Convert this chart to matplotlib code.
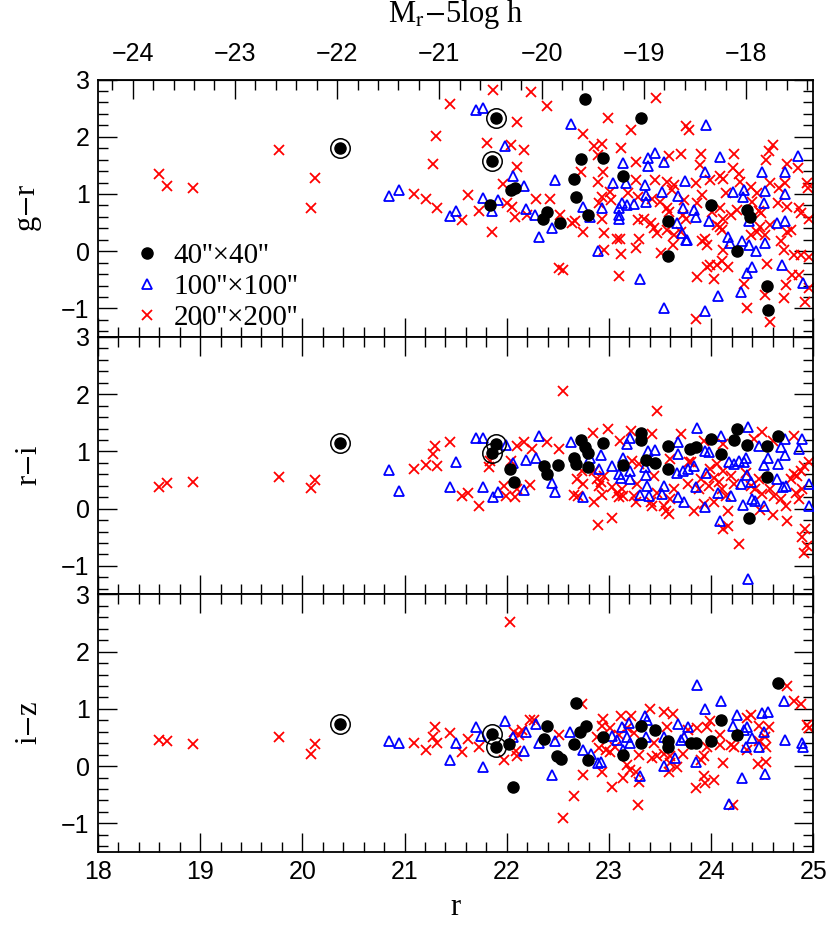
import matplotlib.pyplot as plt
import numpy as np
from matplotlib.ticker import MultipleLocator

plt.rcParams['mathtext.fontset'] = 'stix'

# the three bright galaxies (circled), same objects in every panel
bright_r = [20.37, 21.86, 21.89]
bright_gr = [1.81, 1.58, 2.32]
bright_ri = [1.14, 0.98, 1.13]
bright_iz = [0.73, 0.56, 0.34]

# (r, colour) pairs
gr_40 = [(22.04, 1.07), (22.08, 1.10), (21.84, 0.81), (22.35, 0.57), (22.39, 0.69), (22.52, 0.49),
         (22.77, 2.66), (23.31, 2.32), (22.73, 1.61), (22.94, 1.62), (22.66, 1.26), (23.14, 1.31),
         (22.68, 0.95), (22.79, 0.64), (23.58, 0.53), (23.58, -0.08), (24.00, 0.81), (24.35, 0.72),
         (24.38, 0.60), (24.25, 0.00), (24.55, -0.60), (24.56, -1.03)]
gr_100 = [(20.85, 0.96), (20.95, 1.07), (21.70, 2.47), (21.77, 2.51), (21.98, 1.83), (22.06, 1.31),
          (22.17, 1.14), (22.47, 1.24), (21.77, 0.93), (21.91, 0.89), (21.86, 0.70), (21.44, 0.62),
          (21.50, 0.70), (22.19, 0.74), (22.28, 0.63), (22.32, 0.24), (22.44, 0.40), (22.63, 2.22),
          (23.45, 1.72), (23.38, 1.62), (23.38, 1.49), (23.54, 1.55), (23.14, 1.54), (23.04, 1.20),
          (23.17, 1.20), (23.35, 1.16), (23.36, 0.99), (23.36, 0.86), (23.52, 1.03), (23.68, 0.97),
          (23.74, 1.23), (23.72, 0.76), (22.75, 0.78), (22.81, 0.59), (22.93, 0.75), (23.10, 0.75),
          (23.13, 0.84), (23.18, 0.81), (23.24, 0.82), (23.10, 0.57), (23.10, 0.63), (23.67, 0.49),
          (23.71, 0.32), (23.75, 0.20), (22.89, 0.00), (23.30, -0.49), (23.54, -1.00), (23.95, 2.20),
          (24.09, 1.64), (23.94, 1.39), (24.85, 1.67), (24.50, 1.39), (24.72, 1.39), (24.21, 1.03),
          (24.32, 1.07), (24.31, 0.94), (24.53, 1.05), (24.52, 0.84), (24.72, 1.00), (23.83, 0.72),
          (23.85, 0.60), (23.98, 0.53), (24.37, 0.52), (24.64, 0.50), (24.72, 0.53), (24.16, 0.25),
          (24.30, 0.18), (24.18, 0.14), (24.37, 0.11), (24.44, 0.01), (24.53, 0.14), (23.76, 0.20),
          (24.40, -0.27), (24.35, -0.39), (24.69, -0.25), (24.90, -0.56), (24.07, -0.78), (24.29, -0.72),
          (23.94, -1.05)]
gr_200 = [(18.60, 1.35), (18.68, 1.14), (18.93, 1.11), (19.77, 1.76), (20.12, 1.28), (20.08, 0.75),
          (21.09, 1.00), (21.87, 2.82), (22.24, 2.79), (21.44, 2.57), (22.39, 2.53), (22.10, 2.26),
          (21.31, 2.02), (21.81, 1.89), (22.04, 1.86), (22.17, 1.77), (21.28, 1.53), (22.10, 1.48),
          (21.96, 1.18), (21.21, 0.91), (21.32, 0.75), (21.62, 0.98), (21.56, 0.54), (21.73, 0.71),
          (21.86, 0.34), (22.00, 0.84), (22.05, 0.78), (22.08, 0.60), (22.29, 0.91), (22.42, 0.92),
          (22.20, 0.63), (22.51, -0.30), (23.46, 2.68), (22.99, 2.33), (23.75, 2.19), (22.75, 2.05),
          (23.22, 2.11), (22.85, 1.84), (22.93, 1.87), (22.89, 1.68), (23.12, 1.80), (23.26, 1.55),
          (23.59, 1.67), (23.70, 1.69), (22.73, 1.38), (22.94, 1.39), (22.89, 1.21), (23.26, 1.24),
          (23.45, 1.24), (23.57, 1.21), (23.64, 1.16), (23.62, 1.07), (23.01, 1.04), (22.93, 0.95),
          (22.90, 0.84), (23.02, 0.89), (23.19, 1.01), (23.28, 0.95), (23.42, 0.92), (23.50, 0.86),
          (23.57, 0.75), (23.59, 0.69), (23.72, 0.63), (22.52, 0.63), (22.64, 0.49), (22.67, 0.52),
          (22.75, 0.34), (22.93, 0.57), (23.28, 0.54), (23.34, 0.56), (23.41, 0.49), (23.44, 0.40),
          (23.47, 0.31), (23.57, 0.37), (23.64, 0.28), (23.70, 0.34), (22.95, 0.31), (23.08, 0.21),
          (23.11, 0.22), (23.29, 0.22), (23.26, 0.05), (22.95, 0.02), (23.12, -0.05), (23.51, -0.04),
          (23.63, 0.11), (22.55, -0.33), (23.10, -0.43), (23.78, 2.12), (23.90, 1.69), (24.22, 1.70),
          (24.60, 1.86), (24.57, 1.75), (24.54, 1.59), (24.74, 1.52), (24.85, 1.45), (23.89, 1.51),
          (24.21, 1.46), (23.85, 1.20), (23.99, 1.24), (24.09, 1.31), (24.12, 1.27), (24.27, 1.35),
          (24.28, 1.21), (24.39, 1.13), (24.58, 1.20), (24.66, 1.10), (24.72, 1.20), (24.94, 1.20),
          (24.95, 1.10), (24.14, 1.01), (24.45, 1.01), (24.40, 0.86), (24.65, 0.84), (24.74, 0.78),
          (23.91, 0.98), (23.86, 0.84), (23.73, 0.89), (24.09, 0.75), (24.01, 0.69), (24.12, 0.57),
          (24.19, 0.63), (24.25, 0.72), (24.47, 0.70), (24.49, 0.66), (24.86, 0.75), (24.88, 0.66),
          (24.96, 0.57), (23.75, 0.57), (24.06, 0.46), (24.11, 0.37), (24.09, 0.43), (24.48, 0.43),
          (24.45, 0.34), (24.39, 0.28), (24.53, 0.28), (24.58, 0.46), (24.68, 0.17), (24.74, 0.34),
          (24.78, 0.37), (24.71, 0.02), (24.81, -0.07), (24.88, -0.07), (24.96, -0.10), (23.94, 0.22),
          (23.96, 0.11), (23.91, 0.17), (24.12, 0.02), (24.06, -0.24), (24.16, -0.27), (24.11, -0.18),
          (23.96, -0.27), (23.99, -0.25), (23.86, -0.46), (24.03, -0.48), (24.55, -0.23), (24.32, -0.58),
          (24.53, -0.77), (24.71, -0.81), (24.73, -0.59), (24.79, -0.42), (24.86, -0.42), (24.96, -0.65),
          (24.92, -0.88), (24.35, -0.99), (23.85, -1.19), (24.58, -1.23)]

ri_40 = [(22.03, 0.69), (22.07, 0.47), (22.36, 0.75), (22.39, 0.60), (22.50, 0.77), (22.73, 1.20),
         (22.77, 1.07), (22.79, 0.98), (22.94, 1.14), (22.66, 0.88), (22.68, 0.78), (22.79, 0.73),
         (23.14, 0.76), (23.31, 1.32), (23.31, 1.20), (23.36, 0.85), (23.45, 0.80), (23.58, 1.10),
         (23.58, 0.70), (23.79, 1.04), (23.85, 1.07), (24.00, 1.21), (24.10, 0.95), (24.25, 1.40),
         (24.22, 1.20), (24.35, 1.12), (24.55, 1.09), (24.65, 1.27), (24.55, 0.56), (24.37, -0.16)]
ri_100 = [(20.85, 0.68), (20.95, 0.31), (21.70, 1.23), (21.77, 1.23), (21.99, 1.11), (22.32, 1.27),
          (21.50, 0.81), (21.44, 0.37), (21.77, 0.37), (21.87, 0.21), (21.91, 0.29), (22.06, 0.79),
          (22.19, 0.85), (22.29, 0.89), (22.17, 0.32), (22.44, 0.44), (22.47, 0.29), (22.63, 1.17),
          (22.81, 0.89), (22.92, 0.93), (22.90, 0.70), (23.03, 0.75), (23.14, 0.89), (23.10, 0.60),
          (23.12, 0.54), (23.21, 0.66), (23.21, 0.52), (23.18, 1.13), (23.21, 1.24), (23.38, 1.01),
          (23.45, 1.03), (23.35, 0.72), (23.36, 0.59), (23.37, 0.40), (23.30, 0.24), (23.39, 0.22),
          (23.52, 0.25), (23.54, 0.40), (23.68, 1.17), (23.68, 0.95), (23.67, 0.63), (23.72, 0.66),
          (23.77, 0.69), (23.68, 0.20), (23.73, 0.11), (22.75, 0.21), (23.86, 1.41), (24.10, 1.27),
          (24.36, 1.42), (23.94, 1.01), (23.98, 0.99), (23.83, 0.75), (23.95, 0.63), (23.85, 0.37),
          (23.94, 0.02), (24.09, -0.21), (24.07, 0.28), (24.19, 0.22), (24.17, 0.81), (24.22, 0.78),
          (24.27, 0.84), (24.32, 0.81), (24.34, 0.88), (24.35, 0.59), (24.29, 0.43), (24.39, 0.47),
          (24.31, 0.06), (24.40, 0.17), (24.43, 0.14), (24.52, 0.04), (24.47, 1.09), (24.56, 0.89),
          (24.52, 0.76), (24.65, 0.78), (24.68, 1.07), (24.72, 1.21), (24.72, 0.93), (24.64, 0.52),
          (24.70, 0.37), (24.73, 0.40), (24.89, 1.21), (24.86, 1.05), (24.96, 0.43), (24.96, 0.05),
          (24.36, -1.23)]
ri_200 = [(18.60, 0.38), (18.68, 0.44), (18.93, 0.46), (19.77, 0.56), (20.08, 0.36), (20.12, 0.50),
          (21.09, 0.70), (21.21, 0.76), (21.32, 0.75), (21.28, 0.95), (21.30, 1.09), (21.44, 1.16),
          (21.56, 0.22), (21.62, 0.28), (21.73, 0.05), (21.83, 0.73), (21.84, 0.84), (22.04, 0.84),
          (22.10, 1.10), (22.17, 1.17), (22.25, 1.05), (22.39, 1.16), (22.51, 1.04), (21.97, 0.40),
          (21.99, 0.22), (22.08, 0.20), (22.10, 0.34), (22.23, 0.41), (22.55, 2.05), (23.47, 1.70),
          (22.84, 1.32), (22.99, 1.39), (23.22, 1.35), (23.42, 1.30), (23.11, 1.19), (23.70, 1.30),
          (22.74, 0.66), (22.69, 0.52), (22.75, 0.43), (22.85, 0.66), (22.88, 0.52), (22.92, 0.46),
          (22.95, 0.57), (22.90, 0.40), (22.66, 0.24), (22.70, 0.22), (22.85, 0.11), (22.93, 0.24),
          (23.03, 0.37), (23.08, 0.28), (23.10, 0.20), (23.14, 0.22), (23.13, 0.34), (23.24, 0.22),
          (23.26, 0.11), (23.27, 0.43), (23.29, 0.78), (23.41, 0.11), (23.42, 0.05), (23.47, 0.28),
          (23.54, 0.05), (23.56, -0.04), (23.59, -0.10), (23.60, 0.17), (23.64, 0.34), (23.60, 0.86),
          (23.23, 0.84), (23.44, 0.57), (23.03, -0.16), (22.89, -0.29), (23.78, 0.81), (23.93, 1.19),
          (24.12, 1.13), (24.50, 1.34), (24.42, 1.21), (24.81, 1.27), (24.60, 1.19), (23.80, 0.81),
          (23.99, 0.69), (24.06, 0.78), (24.03, 0.54), (24.12, 0.66), (24.19, 0.57), (23.90, 0.52),
          (23.77, 0.43), (23.88, 0.34), (23.98, 0.40), (24.08, 0.46), (24.11, 0.34), (24.22, 0.43),
          (24.14, 0.22), (24.03, 0.11), (23.83, -0.04), (23.93, 0.08), (24.16, -0.04), (24.47, 0.52),
          (24.43, 0.34), (24.50, 0.25), (24.58, 0.34), (24.61, 0.22), (24.68, 0.17), (24.73, 0.05),
          (24.74, -0.21), (24.60, -0.11), (24.48, -0.02), (24.78, 0.52), (24.81, 0.60), (24.84, 0.57),
          (24.88, 0.66), (24.91, 0.75), (24.96, 0.81), (24.83, 0.28), (24.89, 0.34), (24.86, 0.17),
          (24.92, -0.36), (24.89, -0.50), (24.94, -0.65), (24.91, -0.77), (24.12, -0.36), (24.16, -0.30),
          (24.27, -0.62), (24.34, 0.63), (24.39, 0.40)]

iz_40 = [(22.02, 0.39), (22.06, -0.36), (22.36, 0.47), (22.39, 0.70), (22.49, 0.17), (22.53, 0.12),
         (22.68, 1.10), (22.72, 0.60), (22.78, 0.70), (22.66, 0.39), (22.79, 0.10), (22.94, 0.51),
         (23.14, 0.20), (23.31, 0.70), (23.31, 0.40), (23.45, 0.63), (23.58, 0.43), (23.58, 0.33),
         (23.80, 0.41), (23.85, 0.41), (24.00, 0.43), (24.10, 0.81), (24.25, 0.54), (24.65, 1.46)]
iz_100 = [(20.85, 0.44), (20.95, 0.40), (21.70, 0.69), (21.75, 0.53), (21.98, 0.78), (22.06, 0.51),
          (22.19, 0.60), (22.29, 0.74), (22.32, 0.40), (22.17, 0.27), (22.47, 0.43), (22.44, -0.16),
          (21.50, 0.41), (21.44, 0.10), (21.77, -0.02), (22.62, 0.60), (22.75, 0.29), (22.82, 0.22),
          (22.89, 0.05), (22.92, 0.08), (23.03, 0.53), (23.08, 0.45), (23.13, 0.69), (23.20, 0.75),
          (23.18, 0.51), (23.21, 0.40), (23.14, 0.28), (23.35, 0.88), (23.37, 0.81), (23.36, 0.51),
          (23.30, -0.17), (23.54, 0.51), (23.54, 0.00), (23.65, 0.15), (23.68, 0.73), (23.70, 0.46),
          (23.77, 0.69), (23.86, 1.41), (24.10, 1.14), (23.94, 0.99), (24.25, 0.89), (24.21, 0.70),
          (24.35, 0.69), (24.32, 0.63), (24.40, 0.49), (24.52, 0.60), (24.50, 0.93), (24.56, 0.95),
          (24.71, 1.14), (24.72, 0.46), (24.89, 0.40), (24.90, 0.34), (23.73, 0.51), (23.85, 0.08),
          (24.34, 0.34), (24.47, 0.33), (24.53, -0.14), (24.30, -0.21), (24.17, -0.67)]
iz_200 = [(18.60, 0.46), (18.68, 0.44), (18.93, 0.38), (19.77, 0.50), (20.12, 0.38), (20.08, 0.22),
          (21.09, 0.40), (22.03, 2.52), (21.21, 0.29), (21.30, 0.69), (21.28, 0.51), (21.32, 0.40),
          (21.44, 0.57), (21.56, 0.25), (21.62, 0.47), (21.73, 0.34), (21.97, 0.11), (22.09, 0.26),
          (22.10, 0.17), (22.07, 0.60), (22.12, 0.54), (22.15, 0.63), (22.23, 0.81), (22.27, 0.81),
          (22.51, 0.54), (22.74, 1.08), (22.94, 0.82), (22.93, 0.70), (23.12, 0.88), (23.22, 0.88),
          (23.40, 1.00), (23.54, 0.95), (23.63, 0.91), (23.57, 0.69), (23.10, 0.54), (23.18, 0.66),
          (23.01, 0.66), (22.88, 0.51), (22.90, 0.31), (22.97, 0.28), (23.01, 0.25), (23.06, 0.34),
          (23.24, 0.57), (23.44, 0.40), (23.47, 0.17), (23.42, 0.14), (23.54, 0.22), (23.60, 0.17),
          (23.72, 0.22), (23.60, 0.05), (23.67, -0.01), (23.59, -0.10), (23.29, 0.20), (22.75, -0.16),
          (22.93, -0.10), (23.18, 0.02), (23.21, -0.07), (23.26, -0.10), (23.29, -0.27), (23.14, -0.20),
          (23.03, -0.36), (22.66, -0.52), (23.28, -0.68), (22.55, -0.91), (24.74, 1.40), (24.81, 1.14),
          (24.88, 1.09), (24.94, 0.72), (24.96, 0.66), (24.39, 0.89), (24.35, 0.84), (23.99, 0.78),
          (23.96, 0.69), (23.86, 0.66), (24.09, 0.54), (24.19, 0.37), (24.22, 0.34), (24.09, 0.37),
          (23.96, 0.34), (24.47, 0.70), (24.57, 0.69), (24.53, 0.51), (24.47, 0.43), (24.54, 0.33),
          (24.35, 0.28), (23.93, 0.17), (23.90, 0.11), (24.12, 0.05), (24.46, 0.04), (24.54, 0.08),
          (23.93, -0.18), (24.03, -0.24), (23.94, -0.30), (23.85, -0.39), (24.21, -0.68), (23.77, 0.63)]

ylabels = ['g$-$r', 'r$-$i', 'i$-$z']
legend_labels = ["40''\u00d740''", "100''\u00d7100''", "200''\u00d7200''"]
dm = 42.34  # M_r - 5log h = r - dm

panels = [(gr_40, gr_100, gr_200, bright_gr),
          (ri_40, ri_100, ri_200, bright_ri),
          (iz_40, iz_100, iz_200, bright_iz)]

fig, axes = plt.subplots(3, 1, figsize=(8.3, 9.27), dpi=100, sharex=True)
fig.subplots_adjust(left=0.118, right=0.98, top=0.9142, bottom=0.081, hspace=0)

sans = 'Liberation Sans'
serif = 'Liberation Serif'

for i, (ax, (p40, p100, p200, pb)) in enumerate(zip(axes, panels)):
    r200, c200 = np.array(p200).T
    r100, c100 = np.array(p100).T
    r40, c40 = np.array(p40).T
    h200, = ax.plot(r200, c200, ls='none', marker='x', color='red', ms=6.5, mew=1.3, zorder=2)
    h100, = ax.plot(r100, c100, ls='none', marker='^', mfc='none', mec='blue', ms=7.5, mew=1.3, zorder=3)
    h40, = ax.plot(np.r_[r40, bright_r], np.r_[c40, pb], ls='none', marker='o', color='k', ms=8, zorder=4)
    ax.plot(bright_r, pb, ls='none', marker='o', mfc='none', mec='k', ms=14, mew=1.1, zorder=5)

    ax.set_xlim(18, 25)
    ax.set_ylim(-1.5, 3)
    ax.xaxis.set_major_locator(MultipleLocator(1))
    ax.xaxis.set_minor_locator(MultipleLocator(0.2))
    ax.yaxis.set_major_locator(MultipleLocator(1))
    ax.yaxis.set_minor_locator(MultipleLocator(0.2))
    ax.tick_params(which='both', direction='in', top=(i > 0), right=True, width=1)
    ax.tick_params(which='major', length=14, labelsize=18, pad=6)
    ax.tick_params(which='minor', length=7)
    for lab in ax.get_xticklabels() + ax.get_yticklabels():
        lab.set_family(sans)
    ax.set_ylabel(ylabels[i], fontsize=22, family=serif, labelpad=12)
    for s in ax.spines.values():
        s.set_linewidth(1.3)

    if i == 0:
        ax.legend([h40, h100, h200], legend_labels, loc='upper left', bbox_to_anchor=(0.02, 0.445),
                  frameon=False, prop={'family': serif, 'size': 21}, handlelength=1.0,
                  handletextpad=0.4, labelspacing=0.15, borderpad=0.2)

top = axes[0].secondary_xaxis('top', functions=(lambda r: r - dm, lambda m: m + dm))
top.set_xticks(np.arange(-24, -17))
top.xaxis.set_minor_locator(MultipleLocator(0.2))
top.tick_params(which='both', direction='in', width=1)
top.tick_params(which='major', length=14, labelsize=18, pad=10)
top.tick_params(which='minor', length=7)
for lab in top.get_xticklabels():
    lab.set_family(sans)
top.set_xlabel('M$_{\\rm r}$$-$5log h', fontsize=22, family=serif, labelpad=14)

axes[-1].set_xlabel('r', fontsize=22, family=serif, labelpad=6)

fig.savefig('out.png', dpi=100)
